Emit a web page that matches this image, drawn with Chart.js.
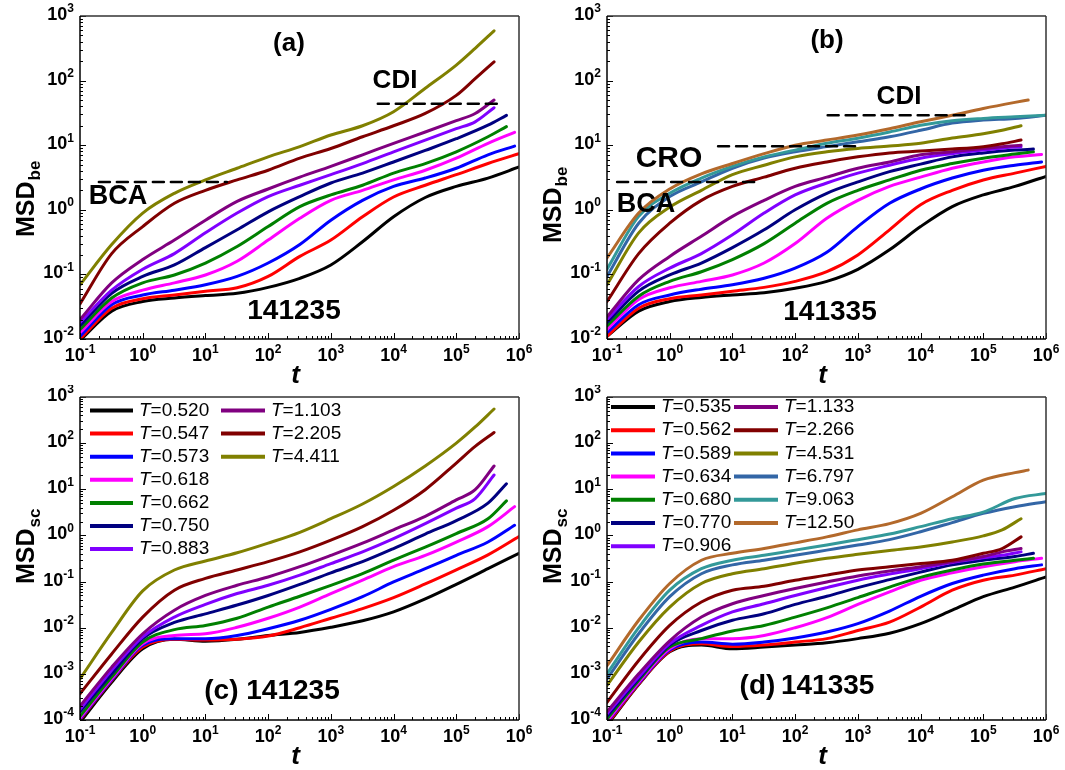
<!DOCTYPE html>
<html>
<head>
<meta charset="utf-8">
<script src="https://cdn.jsdelivr.net/npm/chart.js@4.4.1/dist/chart.umd.min.js"></script>
<style>
  html, body { margin: 0; padding: 0; background: #fff; }
  #wrap { position: relative; width: 1065px; height: 770px; overflow: hidden; background: #fff; }
  canvas { position: absolute; }
</style>
</head>
<body>
<div id="wrap">
  <canvas id="pa" width="532" height="385" style="left:0;top:0;width:532px;height:385px"></canvas>
  <canvas id="pb" width="533" height="385" style="left:532px;top:0;width:533px;height:385px"></canvas>
  <canvas id="pc" width="532" height="385" style="left:0;top:385px;width:532px;height:385px"></canvas>
  <canvas id="pd" width="533" height="385" style="left:532px;top:385px;width:533px;height:385px"></canvas>
</div>
<script>
// time grid shared by all curves (t = 0.1 ... 1e5), each curve then has two tail points
const gridT = [0.1, 0.32, 1, 3.2, 10, 32, 100, 320, 1000, 3200, 1e4, 3.2e4, 1e5];

// end times of each curve (10 curves for 141235, 13 for 141335)
const tail10 = [[3.2e5, 1e6], [3.2e5, 1e6], [3.2e5, 8.5e5], [3.2e5, 8.5e5], [3.2e5, 6.3e5],
                [3.2e5, 6.3e5], [2e5, 4e5], [2e5, 4e5], [2e5, 4e5], [2e5, 4e5]];
const tail13 = tail10.concat([[3.2e5, 1e6], [3.2e5, 1e6], [3.2e5, 5.2e5]]);

const tempsC = ['0.520', '0.547', '0.573', '0.618', '0.662', '0.750', '0.883', '1.103', '2.205', '4.411'];
const tempsD = ['0.535', '0.562', '0.589', '0.634', '0.680', '0.770', '0.906', '1.133', '2.266', '4.531', '6.797', '9.063', '12.50'];

// (a) MSD_be, 141235
const msdA = [
  [0.0095, 0.027, 0.038, 0.043, 0.047, 0.051, 0.063, 0.087, 0.14, 0.32, 0.78, 1.55, 2.3, 3.1, 4.6],
  [0.010, 0.030, 0.042, 0.048, 0.055, 0.062, 0.093, 0.19, 0.34, 0.78, 1.58, 2.4, 3.5, 5.2, 7.4],
  [0.011, 0.034, 0.048, 0.057, 0.069, 0.093, 0.15, 0.29, 0.69, 1.4, 2.3, 3.1, 4.4, 7.1, 9.7],
  [0.0125, 0.038, 0.057, 0.074, 0.098, 0.16, 0.34, 0.74, 1.4, 2.0, 2.9, 4.1, 6.3, 10.7, 15.8],
  [0.014, 0.043, 0.074, 0.098, 0.15, 0.27, 0.55, 1.12, 1.7, 2.4, 3.7, 5.2, 7.9, 13.5, 19.4],
  [0.016, 0.051, 0.093, 0.14, 0.26, 0.49, 0.93, 1.6, 2.6, 3.7, 5.5, 8.3, 12.6, 20.4, 29],
  [0.018, 0.057, 0.12, 0.21, 0.44, 0.89, 1.6, 2.4, 3.5, 5.2, 7.9, 12, 18, 23, 38],
  [0.020, 0.074, 0.17, 0.34, 0.69, 1.35, 2.1, 3.2, 4.7, 7.1, 10.7, 16, 24, 31, 50],
  [0.035, 0.21, 0.55, 1.26, 2.0, 2.9, 4.1, 6.3, 8.9, 13.5, 20, 31, 59, 107, 195],
  [0.069, 0.29, 0.89, 1.8, 2.9, 4.4, 6.6, 9.5, 14.4, 20, 33, 76, 174, 316, 590]
];

// (b) MSD_be, 141335
const msdB = [
  [0.011, 0.027, 0.038, 0.044, 0.048, 0.052, 0.061, 0.078, 0.12, 0.24, 0.55, 1.12, 1.7, 2.3, 3.3],
  [0.011, 0.030, 0.042, 0.048, 0.055, 0.063, 0.078, 0.11, 0.20, 0.49, 1.2, 2.0, 2.9, 3.7, 4.7],
  [0.0125, 0.034, 0.048, 0.059, 0.069, 0.087, 0.125, 0.22, 0.55, 1.26, 2.1, 3.1, 4.1, 4.9, 5.5],
  [0.014, 0.041, 0.062, 0.078, 0.098, 0.15, 0.30, 0.74, 1.4, 2.3, 3.2, 4.4, 5.5, 6.6, 7.2],
  [0.016, 0.046, 0.078, 0.11, 0.17, 0.30, 0.62, 1.26, 2.0, 2.9, 4.1, 5.2, 6.3, 7.3, 7.9],
  [0.018, 0.055, 0.098, 0.15, 0.26, 0.49, 1.0, 1.8, 2.7, 3.9, 5.1, 6.6, 7.6, 8.4, 8.7],
  [0.020, 0.065, 0.125, 0.21, 0.41, 0.89, 1.7, 2.6, 3.7, 4.9, 6.3, 7.4, 8.4, 9.0, 9.5],
  [0.022, 0.083, 0.19, 0.39, 0.79, 1.4, 2.3, 3.2, 4.4, 5.5, 7.1, 7.9, 8.9, 9.5, 10],
  [0.038, 0.21, 0.62, 1.4, 2.3, 3.2, 4.4, 5.5, 6.6, 7.6, 8.1, 8.7, 9.5, 10.5, 12],
  [0.069, 0.44, 1.1, 2.0, 3.5, 4.9, 6.6, 7.9, 8.9, 9.7, 10.7, 12.9, 15, 17, 20],
  [0.093, 0.62, 1.6, 2.7, 4.4, 6.3, 7.9, 9.5, 11.3, 13.5, 17, 22, 24.5, 26, 29],
  [0.12, 0.79, 1.8, 3.1, 4.7, 6.6, 8.4, 10.7, 12.8, 16, 20.4, 24, 26, 27.5, 29],
  [0.18, 0.89, 2.1, 3.6, 5.2, 7.4, 10, 12, 14.4, 18, 23, 29, 37, 46, 50]
];

// (c) MSD_sc, 141235
const msdC = [
  [8.9e-5, 6.6e-4, 3.5e-3, 5.6e-3, 5.1e-3, 5.6e-3, 6.8e-3, 7.9e-3, 0.0102, 0.0141, 0.022, 0.042, 0.087, 0.19, 0.41],
  [1.0e-4, 7.2e-4, 3.8e-3, 5.6e-3, 5.4e-3, 5.6e-3, 6.6e-3, 0.010, 0.016, 0.026, 0.045, 0.089, 0.18, 0.38, 0.95],
  [1.05e-4, 7.4e-4, 4.2e-3, 5.8e-3, 5.8e-3, 6.8e-3, 9.5e-3, 0.0145, 0.025, 0.047, 0.098, 0.19, 0.37, 0.72, 1.66],
  [1.1e-4, 7.8e-4, 4.5e-3, 6.8e-3, 7.4e-3, 0.0102, 0.016, 0.028, 0.055, 0.107, 0.21, 0.37, 0.72, 1.55, 4.2],
  [1.2e-4, 8.5e-4, 4.9e-3, 9.1e-3, 0.0112, 0.016, 0.028, 0.048, 0.083, 0.148, 0.29, 0.56, 1.1, 2.3, 5.6],
  [1.5e-4, 1.0e-3, 5.8e-3, 0.013, 0.020, 0.031, 0.050, 0.087, 0.155, 0.27, 0.52, 1.07, 2.1, 5.0, 13.2],
  [1.7e-4, 1.2e-3, 6.3e-3, 0.017, 0.032, 0.055, 0.083, 0.138, 0.245, 0.44, 0.85, 1.8, 3.9, 6.3, 20.4],
  [2.0e-4, 1.4e-3, 7.4e-3, 0.024, 0.050, 0.083, 0.126, 0.21, 0.37, 0.68, 1.32, 2.6, 5.9, 9.8, 32],
  [3.7e-4, 2.7e-3, 0.017, 0.065, 0.117, 0.178, 0.27, 0.44, 0.79, 1.55, 3.5, 9.8, 37, 85, 170],
  [7.8e-4, 7.9e-3, 0.063, 0.178, 0.28, 0.42, 0.68, 1.17, 2.3, 4.8, 11.5, 32, 100, 224, 550]
];

// (d) MSD_sc, 141335
const msdD = [
  [7.6e-5, 5.9e-4, 3.0e-3, 4.2e-3, 3.5e-3, 3.8e-3, 4.2e-3, 4.7e-3, 5.8e-3, 7.6e-3, 0.0123, 0.024, 0.047, 0.076, 0.126],
  [8.1e-5, 6.0e-4, 3.1e-3, 4.5e-3, 3.9e-3, 4.2e-3, 4.9e-3, 5.8e-3, 8.7e-3, 0.0132, 0.028, 0.065, 0.107, 0.138, 0.19],
  [8.9e-5, 6.3e-4, 3.3e-3, 4.9e-3, 4.4e-3, 4.9e-3, 6.0e-3, 8.1e-3, 0.0123, 0.023, 0.048, 0.091, 0.138, 0.19, 0.23],
  [9.3e-5, 6.6e-4, 3.5e-3, 5.8e-3, 5.8e-3, 6.8e-3, 0.010, 0.0166, 0.032, 0.060, 0.107, 0.155, 0.21, 0.27, 0.32],
  [1.05e-4, 7.2e-4, 3.8e-3, 5.8e-3, 8.5e-3, 0.0112, 0.017, 0.027, 0.045, 0.076, 0.123, 0.178, 0.24, 0.29, 0.32],
  [1.2e-4, 7.8e-4, 4.2e-3, 8.7e-3, 0.0145, 0.020, 0.032, 0.048, 0.074, 0.11, 0.16, 0.23, 0.29, 0.35, 0.41],
  [1.35e-4, 8.5e-4, 4.5e-3, 0.0112, 0.022, 0.033, 0.050, 0.074, 0.107, 0.145, 0.19, 0.26, 0.33, 0.37, 0.44],
  [1.5e-4, 1.0e-3, 5.2e-3, 0.017, 0.033, 0.050, 0.071, 0.098, 0.132, 0.17, 0.21, 0.27, 0.35, 0.44, 0.52],
  [2.4e-4, 1.95e-3, 0.0112, 0.036, 0.065, 0.079, 0.107, 0.138, 0.178, 0.21, 0.245, 0.29, 0.41, 0.52, 0.93],
  [5.6e-4, 4.9e-3, 0.028, 0.091, 0.148, 0.19, 0.25, 0.32, 0.39, 0.47, 0.56, 0.72, 0.98, 1.32, 2.3],
  [7.8e-4, 7.4e-3, 0.047, 0.148, 0.23, 0.29, 0.37, 0.48, 0.62, 0.81, 1.2, 1.9, 3.0, 4.2, 5.4],
  [1.0e-3, 0.010, 0.065, 0.19, 0.29, 0.37, 0.48, 0.62, 0.81, 1.07, 1.55, 2.3, 3.2, 6.3, 8.1],
  [1.5e-3, 0.0145, 0.091, 0.29, 0.41, 0.52, 0.69, 0.93, 1.32, 1.8, 3.0, 6.9, 15.8, 23, 26]
];

// dashed guide lines: [t start, t end, level]
const guidesA = [[0.2, 22, 2.7], [5600, 5.6e5, 44]];
const guidesB = [[0.145, 25, 2.7], [5.9, 1000, 9.6], [330, 5.8e4, 29]];

const colors = ['#000000', '#ff0000', '#0000ff', '#ff00ff', '#008000', '#000080',
                '#8000ff', '#800080', '#800000', '#808000', '#3366a6', '#339999', '#b3692b'];

const FONT = '"Liberation Sans", Arial, sans-serif';

function buildSets(rows, tails, guides) {
  const n = rows.length;
  const sets = rows.map((vals, i) => ({
    data: gridT.concat(tails[i]).map((t, j) => ({ x: t, y: vals[j] })),
    borderColor: colors[i],
    borderWidth: 3,
    order: n - i + 1
  }));
  (guides || []).forEach(g => sets.push({
    data: [{ x: g[0], y: g[2] }, { x: g[1], y: g[2] }],
    borderColor: '#000',
    borderWidth: 2.5,
    borderDash: [11, 7],
    cubicInterpolationMode: 'default',
    tension: 0,
    order: 0
  }));
  return sets;
}

function pow10(ctx, e, x, y, align) {
  const sup = String(e);
  ctx.font = 'bold 18px ' + FONT;
  const wb = ctx.measureText('10').width;
  ctx.font = 'bold 12px ' + FONT;
  const ws = ctx.measureText(sup).width;
  const x0 = align === 'right' ? x - wb - ws : x - (wb + ws) / 2;
  ctx.textAlign = 'left';
  ctx.textBaseline = 'middle';
  ctx.font = 'bold 18px ' + FONT;
  ctx.fillText('10', x0, y);
  ctx.font = 'bold 12px ' + FONT;
  ctx.fillText(sup, x0 + wb, y - 6);
}

const framePlugin = {
  id: 'frame',
  afterDraw(chart, args, o) {
    const ctx = chart.ctx, a = chart.chartArea;
    const xs = chart.scales.x, ys = chart.scales.y;
    ctx.save();
    ctx.fillStyle = '#000';
    ctx.strokeStyle = '#000';
    ctx.lineWidth = 1;
    const seg = (x1, y1, x2, y2) => { ctx.beginPath(); ctx.moveTo(x1, y1); ctx.lineTo(x2, y2); ctx.stroke(); };

    // x ticks
    for (let e = -1; e <= 6; e++) {
      for (let k = 1; k <= 9; k++) {
        const v = k * Math.pow(10, e);
        if (v > 1.0001e6) break;
        const px = Math.round(xs.getPixelForValue(v)) + 0.5;
        seg(px, a.bottom, px, a.bottom - (k === 1 ? 6 : 3));
      }
      pow10(ctx, e, xs.getPixelForValue(Math.pow(10, e)), a.bottom + 17, 'center');
    }
    // y ticks
    for (let e = o.yMin; e <= o.yMax; e++) {
      for (let k = 1; k <= 9; k++) {
        const v = k * Math.pow(10, e);
        if (e === o.yMax && k > 1) break;
        const py = Math.round(ys.getPixelForValue(v)) + 0.5;
        seg(a.left, py, a.left + (k === 1 ? 6 : 3), py);
      }
      pow10(ctx, e, a.left - 6, ys.getPixelForValue(Math.pow(10, e)) - 1, 'right');
    }

    // frame
    ctx.lineWidth = 1.5;
    ctx.strokeStyle = '#333';
    seg(a.left, a.top, a.right, a.top);
    seg(a.right, a.top, a.right, a.bottom);
    ctx.strokeStyle = '#000';
    seg(a.left, a.bottom, a.right, a.bottom);
    seg(a.left, a.top, a.left, a.bottom);

    // axis titles
    ctx.save();
    ctx.translate(a.left - 46, a.top + o.titleY);
    ctx.rotate(-Math.PI / 2);
    ctx.textAlign = 'left';
    ctx.textBaseline = 'alphabetic';
    ctx.font = 'bold 25px ' + FONT;
    ctx.fillText('MSD', 0, 0);
    const wm = ctx.measureText('MSD').width;
    ctx.font = 'bold 17px ' + FONT;
    ctx.fillText(o.sub, wm + 1, 6);
    ctx.restore();

    ctx.font = 'italic bold 26px ' + FONT;
    ctx.textAlign = 'center';
    ctx.textBaseline = 'alphabetic';
    ctx.fillText('t', (a.left + a.right) / 2 - 4, a.bottom + 44);

    // panel texts
    (o.texts || []).forEach(t => {
      ctx.font = 'bold ' + t.size + 'px ' + FONT;
      ctx.textAlign = 'center';
      ctx.textBaseline = 'middle';
      ctx.fillText(t.text, a.left + t.dx, a.top + t.dy);
    });

    // legend
    if (o.legend) {
      const L = o.legend;
      L.labels.forEach((lab, i) => {
        const c = i < 7 ? 0 : 1, r = i < 7 ? i : i - 7;
        const y = a.top + L.y0 + r * L.dy;
        const col = L.cols[c];
        ctx.strokeStyle = colors[i];
        ctx.lineWidth = 4;
        seg(a.left + col[0], y, a.left + col[1], y);
        ctx.textAlign = 'left';
        ctx.textBaseline = 'middle';
        ctx.font = 'italic 19px ' + FONT;
        ctx.fillText('T', a.left + col[2], y);
        const wt = ctx.measureText('T').width;
        ctx.font = '19px ' + FONT;
        ctx.fillText('=' + lab, a.left + col[2] + wt, y);
      });
    }
    ctx.restore();
  }
};

function makeChart(id, sets, yMin, yMax, pad, frame) {
  return new Chart(document.getElementById(id), {
    type: 'line',
    data: { datasets: sets },
    options: {
      responsive: false,
      animation: false,
      devicePixelRatio: 1,
      layout: { padding: pad },
      parsing: true,
      elements: {
        point: { radius: 0 },
        line: { cubicInterpolationMode: 'monotone', borderCapStyle: 'round', borderJoinStyle: 'round' }
      },
      scales: {
        x: { type: 'logarithmic', min: 0.1, max: 1e6, display: false },
        y: { type: 'logarithmic', min: Math.pow(10, yMin), max: Math.pow(10, yMax), display: false }
      },
      plugins: {
        legend: { display: false },
        tooltip: { enabled: false },
        frame: frame
      }
    },
    plugins: [framePlugin]
  });
}

makeChart('pa', buildSets(msdA, tail10, guidesA), -2, 3,
  { left: 80, top: 16, right: 13, bottom: 46 },
  { yMin: -2, yMax: 3, sub: 'be', titleY: 221,
    texts: [
      { text: '(a)', dx: 209, dy: 28, size: 26 },
      { text: 'CDI', dx: 315, dy: 65, size: 26 },
      { text: 'BCA', dx: 38, dy: 181, size: 27 },
      { text: '141235', dx: 214, dy: 295, size: 28 }
    ] });

makeChart('pb', buildSets(msdB, tail13, guidesB), -2, 3,
  { left: 75, top: 16, right: 19, bottom: 46 },
  { yMin: -2, yMax: 3, sub: 'be', titleY: 227,
    texts: [
      { text: '(b)', dx: 220, dy: 25, size: 26 },
      { text: 'CDI', dx: 292, dy: 81, size: 26 },
      { text: 'CRO', dx: 62, dy: 143, size: 30 },
      { text: 'BCA', dx: 39, dy: 189, size: 27 },
      { text: '141335', dx: 223, dy: 296, size: 28 }
    ] });

makeChart('pc', buildSets(msdC, tail10), -4, 3,
  { left: 80, top: 12, right: 13, bottom: 50 },
  { yMin: -4, yMax: 3, sub: 'sc', titleY: 187,
    texts: [{ text: '(c) 141235', dx: 192, dy: 294, size: 28 }],
    legend: { labels: tempsC, y0: 13.5, dy: 23.1, cols: [[10, 53, 59], [141, 185, 191]] } });

makeChart('pd', buildSets(msdD, tail13), -4, 3,
  { left: 75, top: 12, right: 19, bottom: 50 },
  { yMin: -4, yMax: 3, sub: 'sc', titleY: 187,
    texts: [{ text: '(d)\u2009141335', dx: 200, dy: 289, size: 28 }],
    legend: { labels: tempsD, y0: 10, dy: 23.2, cols: [[4, 48, 54], [127, 171, 177]] } });
</script>
</body>
</html>
